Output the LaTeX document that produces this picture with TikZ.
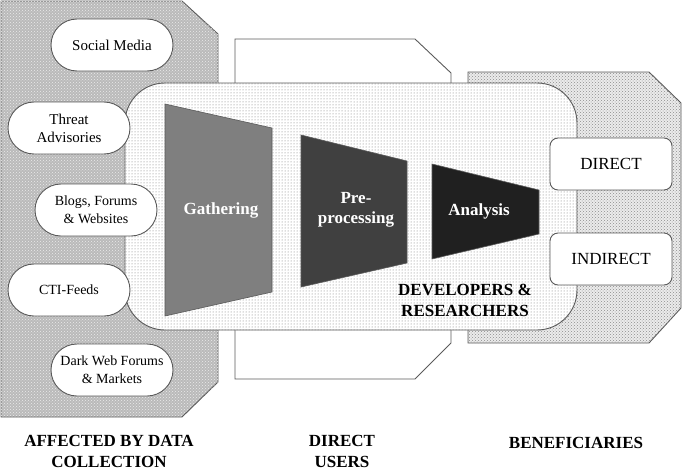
\documentclass[tikz,border=0pt]{standalone}
\usepackage{fontspec}
\setmainfont{Liberation Serif}
\usetikzlibrary{patterns,shapes.misc}
\definecolor{edge}{HTML}{5A5A5A}
\definecolor{gath}{HTML}{7F7F7F}
\definecolor{prep}{HTML}{404040}
\definecolor{anal}{HTML}{202020}
\begin{document}
\begin{tikzpicture}[x=1pt,y=-1pt,
  panel/.style={draw=edge, line width=0.9pt},
  densepanel/.style={panel, fill=black!27, postaction={pattern=crosshatch dots, pattern color=white!92!black}},
  lightpanel/.style={panel, fill=black!8, postaction={pattern=crosshatch dots, pattern color=black!45}},
  mainbox/.style={panel, fill=white, postaction={pattern=dots, pattern color=black!55}},
  src/.style={draw=edge, line width=0.9pt, fill=white, rounded rectangle, minimum width=122pt, minimum height=52pt, inner sep=0pt, align=center},
  ben/.style={draw=edge, line width=0.9pt, fill=white, rounded corners=8pt, minimum width=122pt, minimum height=52pt, inner sep=0pt, font=\fontsize{17}{20}\selectfont},
  stage/.style={draw=edge, line width=0.6pt},
  stagetext/.style={text=white, font=\bfseries\fontsize{17}{20}\selectfont, align=center},
  biglabel/.style={font=\bfseries\fontsize{17}{21}\selectfont, align=center}
]
\useasboundingbox (0,0) rectangle (685,471);
% panels
\path[densepanel] (1,1) -- (182,1) -- (218,34) -- (218,382) -- (182,417) -- (1,417) -- cycle;
\path[panel, fill=white] (235,39) -- (415,39) -- (451,73) -- (451,343) -- (415,379) -- (235,379) -- cycle;
\path[lightpanel] (468,72) -- (649,72) -- (681,103) -- (681,308) -- (649,343) -- (468,343) -- cycle;
% main rounded box
\path[mainbox, rounded corners=40pt] (125,83) rectangle (577,330);
% stages
\path[stage, fill=gath] (165,104) -- (272,128) -- (272,292) -- (165,316) -- cycle;
\path[stage, fill=prep] (301,135) -- (407,161) -- (407,263) -- (301,287) -- cycle;
\path[stage, fill=anal] (432,164) -- (539,190) -- (539,234) -- (432,259) -- cycle;
\node[stagetext] (gathering) at (221,210) {Gathering};
\node[stagetext] (prepro) at (356,210) {Pre-\\processing};
\node[stagetext] (analysis) at (479,211) {Analysis};
\node[biglabel] (devres) at (465,300) {DEVELOPERS \&\\RESEARCHERS};
% sources
\node[src, font=\fontsize{15}{18}\selectfont] (social) at (112,45) {Social Media};
\node[src, font=\fontsize{15}{18}\selectfont] (threat) at (69,128) {Threat\\Advisories};
\node[src, font=\fontsize{14}{18}\selectfont] (blogs) at (96,210) {Blogs, Forums\\\& Websites};
\node[src, font=\fontsize{14}{18}\selectfont] (cti) at (69,290) {CTI-Feeds};
\node[src, font=\fontsize{14}{18}\selectfont] (dark) at (112,370) {Dark Web Forums\\\& Markets};
% beneficiaries
\node[ben] (direct) at (611,164) {DIRECT};
\node[ben] (indirect) at (611,259) {INDIRECT};
% bottom labels
\node[biglabel] (affected) at (109,451) {AFFECTED BY DATA\\COLLECTION};
\node[biglabel] (users) at (342,451) {DIRECT\\USERS};
\node[biglabel] (benef) at (576,443) {BENEFICIARIES};
\end{tikzpicture}
\end{document}
